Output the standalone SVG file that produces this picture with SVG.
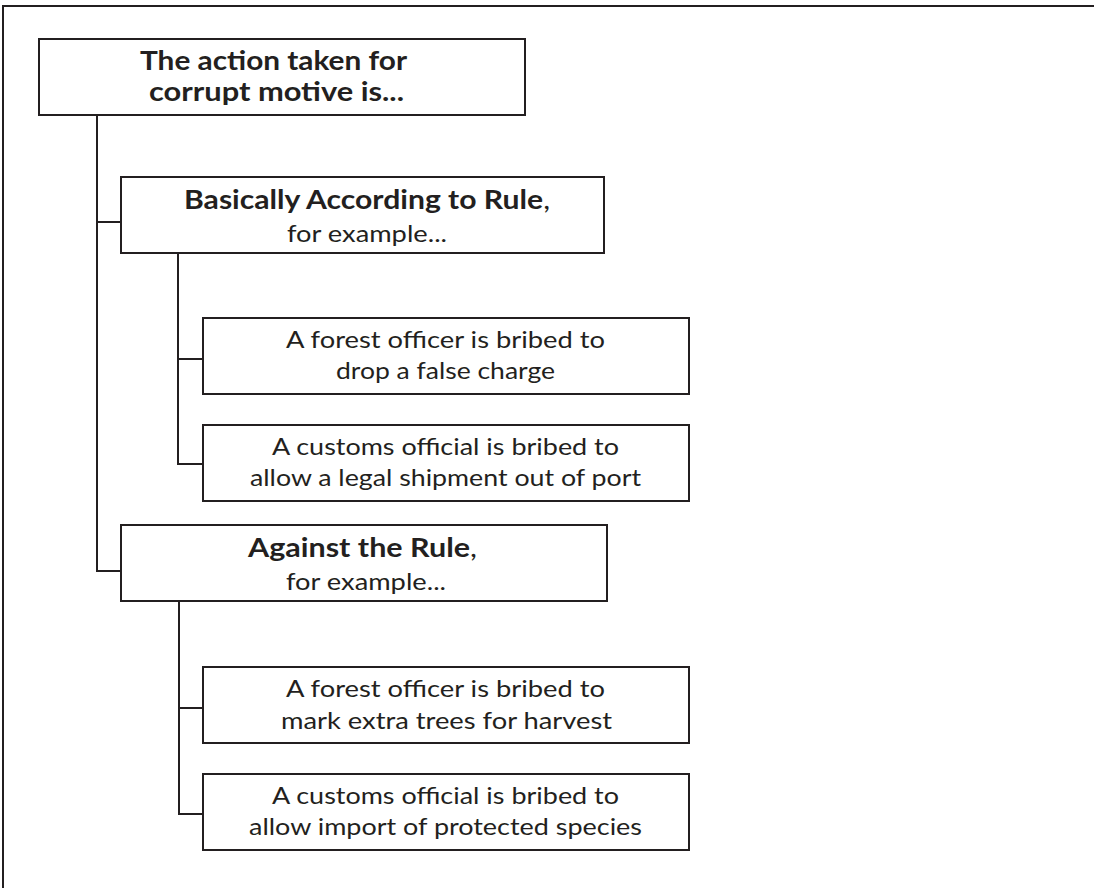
<svg xmlns="http://www.w3.org/2000/svg" width="1094" height="888" viewBox="0 0 1094 888">
<style>
.box{fill:#fff;stroke:#231f20;stroke-width:2}
.ln{fill:none;stroke:#231f20;stroke-width:2}
text{font-family:Lato,"Liberation Sans",sans-serif;fill:#231f20}
.b{font-weight:bold}
.r{font-size:23px}
.h{font-size:26px}
.t{font-size:27px}
</style>
<rect x="0" y="0" width="1094" height="888" fill="#fff"/>
<rect id="frame" x="3" y="6" width="1110" height="900" class="ln"/>
<g id="connectors">
<path class="ln" d="M97 115 V571 H121 M97 222 H121"/>
<path class="ln" d="M178 253 V464 H203 M178 359 H203"/>
<path class="ln" d="M179 601 V814 H203 M179 708 H203"/>
</g>
<g id="root">
<rect class="box" x="39" y="39" width="486" height="76"/>
<text class="t b" x="140" y="70" textLength="267" lengthAdjust="spacingAndGlyphs">The action taken for</text>
<text class="t b" x="149" y="101" textLength="255" lengthAdjust="spacingAndGlyphs">corrupt motive is...</text>
</g>
<g id="basically">
<rect class="box" x="121" y="177" width="483" height="76"/>
<text class="h" x="184" y="209" textLength="366" lengthAdjust="spacingAndGlyphs"><tspan class="b">Basically According to Rule</tspan>,</text>
<text class="r" x="287" y="242" textLength="160" lengthAdjust="spacingAndGlyphs">for example...</text>
</g>
<g id="c1">
<rect class="box" x="203" y="318" width="486" height="76"/>
<text class="r" x="286" y="348" textLength="319" lengthAdjust="spacingAndGlyphs">A forest officer is bribed to</text>
<text class="r" x="336" y="379" textLength="219" lengthAdjust="spacingAndGlyphs">drop a false charge</text>
</g>
<g id="c2">
<rect class="box" x="203" y="425" width="486" height="76"/>
<text class="r" x="272" y="455" textLength="347" lengthAdjust="spacingAndGlyphs">A customs official is bribed to</text>
<text class="r" x="250" y="486" textLength="391" lengthAdjust="spacingAndGlyphs">allow a legal shipment out of port</text>
</g>
<g id="against">
<rect class="box" x="121" y="525" width="486" height="76"/>
<text class="h" x="248" y="557" textLength="229" lengthAdjust="spacingAndGlyphs"><tspan class="b">Against the Rule</tspan>,</text>
<text class="r" x="286" y="590" textLength="160" lengthAdjust="spacingAndGlyphs">for example...</text>
</g>
<g id="c3">
<rect class="box" x="203" y="667" width="486" height="76"/>
<text class="r" x="286" y="697" textLength="319" lengthAdjust="spacingAndGlyphs">A forest officer is bribed to</text>
<text class="r" x="281" y="729" textLength="331" lengthAdjust="spacingAndGlyphs">mark extra trees for harvest</text>
</g>
<g id="c4">
<rect class="box" x="203" y="774" width="486" height="76"/>
<text class="r" x="272" y="804" textLength="347" lengthAdjust="spacingAndGlyphs">A customs official is bribed to</text>
<text class="r" x="249" y="835" textLength="393" lengthAdjust="spacingAndGlyphs">allow import of protected species</text>
</g>
</svg>
